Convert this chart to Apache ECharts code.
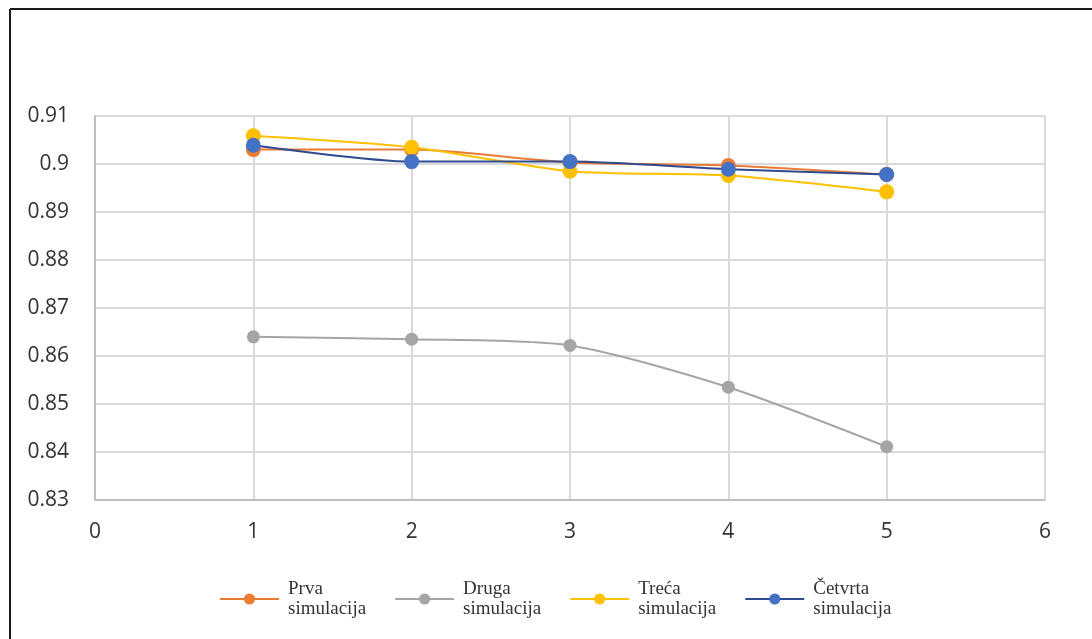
<!DOCTYPE html>
<html>
<head>
<meta charset="utf-8">
<script src="https://cdn.jsdelivr.net/npm/echarts@6/dist/echarts.min.js"></script>
<style>
html,body{margin:0;padding:0;background:#fff;}
#c{width:1092px;height:639px;}
</style>
</head>
<body>
<div id="c"></div>
<script>
var xValues = [1, 2, 3, 4, 5];
var seriesNames = ['Prva\nsimulacija', 'Druga\nsimulacija', 'Treća\nsimulacija', 'Četvrta\nsimulacija'];
var prva = [0.9030, 0.9030, 0.9003, 0.8997, 0.8978];
var druga = [0.8640, 0.8635, 0.8622, 0.8535, 0.8411];
var treca = [0.9059, 0.9035, 0.8985, 0.8976, 0.8942];
var cetvrta = [0.9039, 0.9005, 0.9005, 0.8989, 0.8978];
var yTicks = [0.83, 0.84, 0.85, 0.86, 0.87, 0.88, 0.89, 0.9, 0.91];
var xTicks = [0, 1, 2, 3, 4, 5, 6];

function pts(arr){ return xValues.map(function(x,i){ return [x, arr[i]]; }); }

var lineColors = ['#E97B35', '#A5A5A5', '#FFC000', '#2E4B8F'];
var markerColors = ['#ED7D31', '#A5A5A5', '#FFC000', '#4472C4'];
var datasets = [prva, druga, treca, cetvrta];

var chart = echarts.init(document.getElementById('c'));
var series = datasets.map(function(d, i){
  return {
    name: seriesNames[i],
    type: 'line',
    data: pts(d),
    smooth: 0.25,
    symbol: 'circle',
    symbolSize: i === 1 ? 13 : 15,
    z: [2, 1, 3, 4][i],
    lineStyle: { color: lineColors[i], width: 2 },
    itemStyle: { color: markerColors[i], borderColor: markerColors[i], borderWidth: 0 }
  };
});

chart.setOption({
  animation: false,
  backgroundColor: '#ffffff',
  graphic: [
    { type: 'line', shape: { x1: 10, y1: 9, x2: 1092, y2: 9 }, style: { stroke: '#1a1a1a', lineWidth: 2 } },
    { type: 'line', shape: { x1: 10, y1: 9, x2: 10, y2: 639 }, style: { stroke: '#1a1a1a', lineWidth: 2 } }
  ],
  grid: { left: 95, right: 47, top: 116, bottom: 139 },
  legend: {
    top: 574,
    left: 214,
    itemWidth: 59,
    itemHeight: 14,
    itemGap: 28,
    textStyle: { fontFamily: 'Liberation Serif', fontSize: 19, color: '#333', lineHeight: 20, padding: [0, 0, 0, 4] },
    data: seriesNames
  },
  xAxis: {
    type: 'value',
    min: 0, max: 6, interval: 1,
    axisLine: { show: false },
    axisTick: { show: false },
    splitLine: { show: true, lineStyle: { color: '#d9d9d9', width: 2 } },
    axisLabel: { fontFamily: 'Open Sans', fontSize: 21, color: '#333', margin: 22,
      formatter: function(v){ return xTicks.indexOf(v) >= 0 ? String(v) : ''; } }
  },
  yAxis: {
    type: 'value',
    min: 0.83, max: 0.91, interval: 0.01,
    axisLine: { show: true, lineStyle: { color: '#bfbfbf', width: 2 } },
    axisTick: { show: false },
    splitLine: { show: true, lineStyle: { color: '#d9d9d9', width: 2 } },
    axisLabel: { fontFamily: 'Open Sans', fontSize: 21, color: '#333', margin: 26,
      formatter: function(v){
        var r = Math.round(v * 100) / 100;
        for (var i = 0; i < yTicks.length; i++) { if (Math.abs(yTicks[i] - r) < 1e-9) return String(yTicks[i]); }
        return '';
      } }
  },
  series: series.concat([{
    type: 'line', data: [[0, 0.83], [6, 0.83]], symbol: 'none', silent: true,
    lineStyle: { color: '#bfbfbf', width: 2 }, z: 0, tooltip: { show: false }
  }])
});
</script>
</body>
</html>
